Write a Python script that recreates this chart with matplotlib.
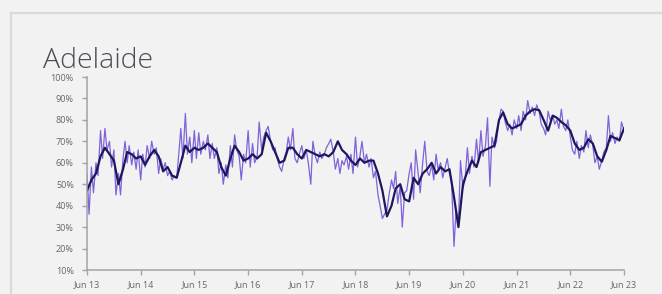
import matplotlib
matplotlib.use("Agg")
import matplotlib.pyplot as plt
import matplotlib.dates as mdates
from matplotlib.ticker import FuncFormatter
import pandas as pd

# ------------------------------------------------------
# Data
# ------------------------------------------------------
title = "Adelaide"

# half-monthly raw occupancy, Jun 2013 -> Jun 2023
raw_dates = pd.date_range("2013-06-01", periods=241, freq="SMS")
raw_values = [
    55, 36, 58, 46, 60, 54, 75, 62, 76, 66, 70, 58, 66, 45, 55, 45, 62, 70, 60, 68, 59, 65, 57, 66,
    52, 64, 58, 68, 62, 70, 64, 67, 55, 62, 57, 60, 54, 56, 52, 54, 53, 64, 76, 62, 83, 64, 72, 60,
    75, 62, 74, 64, 70, 66, 73, 62, 69, 62, 67, 55, 60, 50, 59, 53, 68, 58, 73, 66, 63, 52, 64, 60,
    75, 58, 69, 60, 63, 79, 66, 72, 75, 77, 70, 66, 67, 62, 58, 56, 62, 65, 72, 66, 76, 62, 60, 64,
    68, 62, 66, 60, 50, 70, 63, 60, 65, 62, 64, 67, 69, 71, 65, 57, 62, 55, 61, 59, 63, 57, 64, 55,
    72, 58, 63, 70, 60, 64, 58, 62, 53, 56, 45, 40, 34, 36, 38, 45, 52, 48, 56, 41, 49, 30, 46, 47,
    55, 60, 43, 66, 55, 46, 60, 70, 56, 54, 59, 52, 64, 57, 60, 53, 58, 62, 55, 52, 21, 38, 32, 61,
    48, 52, 67, 55, 63, 58, 71, 60, 75, 63, 68, 81, 49, 72, 67, 70, 80, 85, 84, 79, 75, 78, 73, 80,
    76, 82, 75, 84, 80, 89, 83, 86, 82, 87, 84, 78, 76, 73, 84, 80, 82, 78, 80, 76, 85, 77, 75, 80,
    72, 66, 64, 70, 62, 68, 65, 75, 67, 73, 68, 60, 63, 57, 61, 65, 67, 82, 70, 74, 69, 72, 70, 79,
    75,
]

# monthly smoothed trend
trend_dates = pd.date_range("2013-06-01", periods=121, freq="MS")
trend_values = [
    47, 52, 55, 63, 67, 64, 61, 50, 57, 65, 64, 62,
    63, 59, 63, 66, 63, 56, 58, 54, 53, 60, 68, 65,
    67, 66, 67, 69, 67, 65, 58, 54, 62, 68, 65, 61,
    62, 64, 62, 64, 74, 70, 65, 60, 61, 67, 67, 64,
    62, 66, 65, 64, 63, 64, 63, 65, 70, 66, 64, 61,
    59, 62, 60, 61, 61, 55, 47, 35, 40, 48, 50, 43,
    42, 53, 50, 55, 57, 60, 55, 58, 56, 57, 44, 30,
    50, 56, 61, 58, 65, 66, 67, 68, 80, 83.5, 78, 76,
    77, 78, 82, 84, 85, 84.5, 80, 75, 82, 81, 79, 77.5,
    75, 69, 66, 67, 71, 69, 63, 60.5, 66, 72.5, 71.5, 70.5,
    76,
]

y_ticks = [10, 20, 30, 40, 50, 60, 70, 80, 90, 100]
x_tick_years = list(range(2013, 2024))

# ------------------------------------------------------
# Figure
# ------------------------------------------------------
plt.rcParams["font.family"] = ["Open Sans", "DejaVu Sans"]

fig = plt.figure(figsize=(6.62, 2.94), dpi=100, facecolor="#f2f2f2")

# card border (top and left edge)
fig.add_artist(plt.Line2D([11 / 662, 1], [1 - 13 / 294, 1 - 13 / 294],
                          color="#d9d9de", lw=1.6, transform=fig.transFigure))
fig.add_artist(plt.Line2D([11 / 662, 11 / 662], [0, 1 - 13 / 294],
                          color="#d9d9de", lw=1.6, transform=fig.transFigure))

ax = fig.add_axes([87 / 662, 1 - 270 / 294, (624 - 87) / 662, (270 - 77) / 294])
ax.set_facecolor("none")

ax.plot(raw_dates, raw_values, color="#7a5ad8", lw=0.9, alpha=0.95)
ax.plot(trend_dates, trend_values, color="#1c185e", lw=1.6)

ax.set_ylim(10, 100)
ax.set_yticks(y_ticks)
ax.yaxis.set_major_formatter(FuncFormatter(lambda v, p: f"{int(v)}%"))

ax.set_xlim(pd.Timestamp("2013-06-01"), pd.Timestamp("2023-06-01"))
ax.set_xticks([pd.Timestamp(f"{y}-06-01") for y in x_tick_years])
ax.xaxis.set_major_formatter(mdates.DateFormatter("%b %y"))

for side in ["top", "right"]:
    ax.spines[side].set_visible(False)
for side in ["left", "bottom"]:
    ax.spines[side].set_color("#a3a3a3")
    ax.spines[side].set_linewidth(1.1)

ax.tick_params(axis="both", colors="#a3a3a3", labelcolor="#666666",
               labelsize=6.5, length=3.5, width=1)
ax.tick_params(axis="y", pad=6)
ax.tick_params(axis="x", pad=4)

fig.text(43 / 662, 1 - 68 / 294, title, fontsize=20.5, color="#4d4d57",
         fontweight="light", va="baseline", ha="left")

fig.savefig("out.png", dpi=100, facecolor=fig.get_facecolor())
